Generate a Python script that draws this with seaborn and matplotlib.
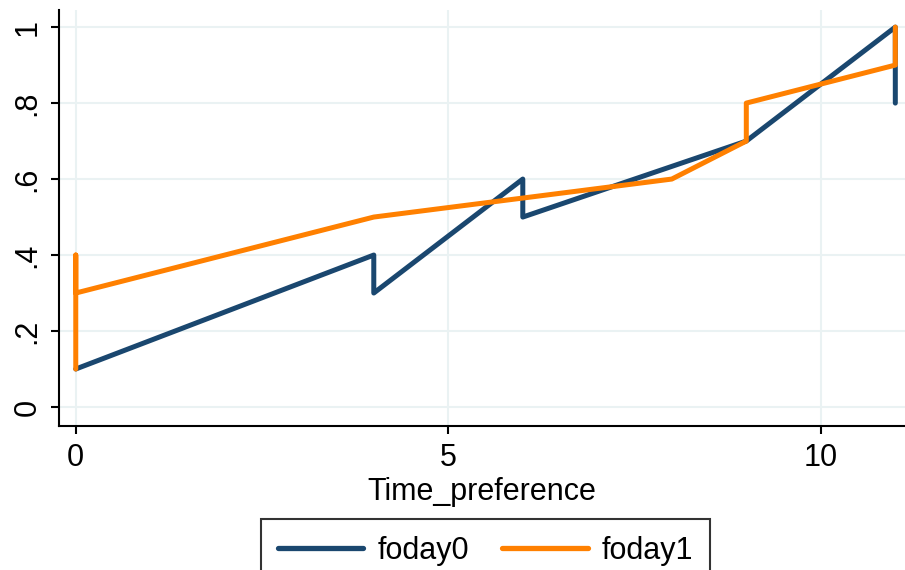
import pandas as pd
import seaborn as sns
import matplotlib.pyplot as plt

# values (x = Time_preference), in plotting order
foday0_x = [0, 4, 4, 6, 6, 9, 11, 11]
foday0_y = [0.1, 0.4, 0.3, 0.6, 0.5, 0.7, 1.0, 0.8]
foday1_x = [0, 0, 0, 4, 8, 9, 9, 11, 11]
foday1_y = [0.1, 0.4, 0.3, 0.5, 0.6, 0.7, 0.8, 0.9, 1.0]

x_ticks = [0, 5, 10]
y_ticks = [0, 0.2, 0.4, 0.6, 0.8, 1.0]
y_labels = ['0', '.2', '.4', '.6', '.8', '1']

df = pd.concat([
    pd.DataFrame({'Time_preference': foday0_x, 'value': foday0_y, 'series': 'foday0'}),
    pd.DataFrame({'Time_preference': foday1_x, 'value': foday1_y, 'series': 'foday1'}),
], ignore_index=True)

sns.set_style('white')
plt.rcParams['font.family'] = ['Liberation Sans', 'DejaVu Sans']
plt.rcParams['text.color'] = 'black'
plt.rcParams['axes.labelcolor'] = 'black'
plt.rcParams['xtick.color'] = 'black'
plt.rcParams['ytick.color'] = 'black'

fig = plt.figure(figsize=(9.05, 5.7), dpi=100)
ax = fig.add_axes([59 / 905, 1 - 426 / 570, 1 - 59 / 905, (426 - 10) / 570])

palette = {'foday0': '#1a476f', 'foday1': '#ff8000'}
sns.lineplot(data=df, x='Time_preference', y='value', hue='series', palette=palette,
             sort=False, estimator=None, linewidth=3.6, ax=ax, legend=False)

ax.set_xlim(-0.225, 11.13)
ax.set_ylim(-0.05, 1.045)
ax.set_xticks(x_ticks)
ax.set_yticks(y_ticks)
ax.set_yticklabels(y_labels, rotation=90, va='center')
ax.grid(True, color='#eaf2f3', linewidth=1.5)
ax.set_axisbelow(True)

for side in ['top', 'right']:
    ax.spines[side].set_visible(False)
for side in ['left', 'bottom']:
    ax.spines[side].set_color('black')
    ax.spines[side].set_linewidth(1.5)

ax.tick_params(axis='both', direction='out', length=6, width=1.5, color='black',
               labelsize=22, pad=6, left=True, bottom=True)
ax.set_xlabel('Time_preference', fontsize=22, labelpad=3)
ax.set_ylabel('')

handles = [plt.Line2D([], [], color=palette[s], linewidth=3.8) for s in ['foday0', 'foday1']]
leg = fig.legend(handles, ['foday0', 'foday1'], loc='upper center', ncol=2,
                 bbox_to_anchor=(485.5 / 905, 1 - 519 / 570), fontsize=22,
                 frameon=True, fancybox=False, handlelength=2.8, handletextpad=0.45,
                 columnspacing=1.1, borderpad=0.55, borderaxespad=0)
leg.get_frame().set_edgecolor('black')
leg.get_frame().set_linewidth(1.5)

fig.savefig('out.png', dpi=100)
